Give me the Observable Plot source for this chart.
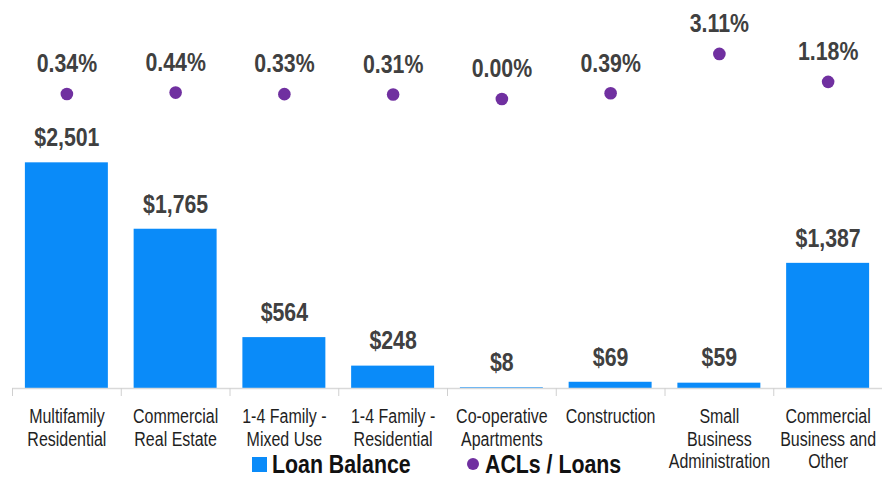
<!DOCTYPE html>
<html><head><meta charset="utf-8">
<script src="https://cdn.jsdelivr.net/npm/d3@7"></script>
<script src="https://cdn.jsdelivr.net/npm/@observablehq/plot@0.6"></script>
<style>
body{margin:0;background:#fff;}
#wrap{position:relative;width:882px;height:479px;overflow:hidden;}
#wrap svg{position:absolute;left:0;top:0;overflow:visible;}
.leg{position:absolute;display:flex;align-items:center;font-weight:bold;color:#111;white-space:nowrap;}
.leg .t{display:inline-block;transform:scaleX(0.82);transform-origin:left center;}
</style></head><body><div id="wrap"></div><script>
const categories = ["Multifamily Residential","Commercial Real Estate","1-4 Family - Mixed Use","1-4 Family - Residential","Co-operative Apartments","Construction","Small Business Administration","Commercial Business and Other"];
const tickLabels = ["Multifamily\nResidential","Commercial\nReal Estate","1-4 Family -\nMixed Use","1-4 Family -\nResidential","Co-operative\nApartments","Construction","Small\nBusiness\nAdministration","Commercial\nBusiness and\nOther"];
const loanBalance = [2501,1765,564,248,8,69,59,1387];
const aclToLoans = [0.34,0.44,0.33,0.31,0.00,0.39,3.11,1.18];
const seriesNames = ["Loan Balance","ACLs / Loans"];

const data = categories.map((c,i)=>({cat:c, loan:loanBalance[i], acl:aclToLoans[i]}));

const FF = "'Liberation Sans',Arial,sans-serif";
const NARROW = 0.82; // condensed look of the original (Arial Narrow style)

const W=882, H=479, ML=12, MR=0, MT=0, MB=91;
const BLUE="#0A8BF9", PURPLE="#7030A0";
const step=(W-ML-MR)/categories.length;
const xOpts={domain:categories, paddingInner:0.237, paddingOuter:0.1185, round:false, axis:null};
const common={width:W,height:H,marginLeft:ML,marginRight:MR,marginTop:MT,marginBottom:MB,style:{fontFamily:FF,background:"transparent",overflow:"visible"}};

const bars = Plot.plot({...common,
  x:xOpts,
  y:{domain:[0,4300],axis:null},
  marks:[
    Plot.barY(data,{x:"cat",y:"loan",fill:BLUE}),
    Plot.ruleY([0],{stroke:"#d9d9d9",strokeWidth:1.3}),
    Plot.axisX({tickSize:8,tickFormat:()=>"",label:null,stroke:"#d0d0d0",dx:-step/2}),
    Plot.axisX({ticks:[categories[categories.length-1]],tickSize:8,tickFormat:()=>"",label:null,stroke:"#d0d0d0",dx:step/2}),
    Plot.axisX({tickSize:0,tickPadding:19,label:null,tickFormat:d=>tickLabels[categories.indexOf(d)],fontSize:19.5,lineHeight:1.14,fill:"#1f1f1f"}),
    Plot.text(data,{x:"cat",y:"loan",text:d=>d3.format("$,")(d.loan),dy:-25,fontSize:26,fontWeight:"bold",fill:"#404040"})
  ]});

const dots = Plot.plot({...common,
  x:xOpts,
  y:{domain:[-20,6.8],axis:null},
  marks:[
    Plot.dot(data,{x:"cat",y:"acl",r:6.3,fill:PURPLE,stroke:null}),
    Plot.text(data,{x:"cat",y:"acl",text:d=>d.acl.toFixed(2)+"%",dy:-30,fontSize:26,fontWeight:"bold",fill:"#404040"})
  ]});

for (const svg of [bars, dots]) {
  svg.querySelectorAll("text").forEach(t=>{
    const tr=t.getAttribute("transform")||"";
    t.setAttribute("transform", tr+` scale(${NARROW},1)`);
  });
}

const wrap=document.getElementById("wrap");
wrap.appendChild(bars); wrap.appendChild(dots);

const fs=26;
const legTop=453;
const l1=document.createElement("div"); l1.className="leg";
l1.style.cssText=`left:252px;top:${legTop}px;font-family:${FF};font-size:${fs}px;line-height:22px;height:22px;`;
l1.innerHTML=`<span style="display:inline-block;width:15px;height:15px;background:${BLUE};margin-right:5px"></span><span class="t">${seriesNames[0]}</span>`;
const l2=document.createElement("div"); l2.className="leg";
l2.style.cssText=`left:467px;top:${legTop}px;font-family:${FF};font-size:${fs}px;line-height:22px;height:22px;`;
l2.innerHTML=`<span style="display:inline-block;width:12px;height:12px;border-radius:50%;background:${PURPLE};margin-right:6px"></span><span class="t">${seriesNames[1]}</span>`;
wrap.appendChild(l1); wrap.appendChild(l2);
</script></body></html>
